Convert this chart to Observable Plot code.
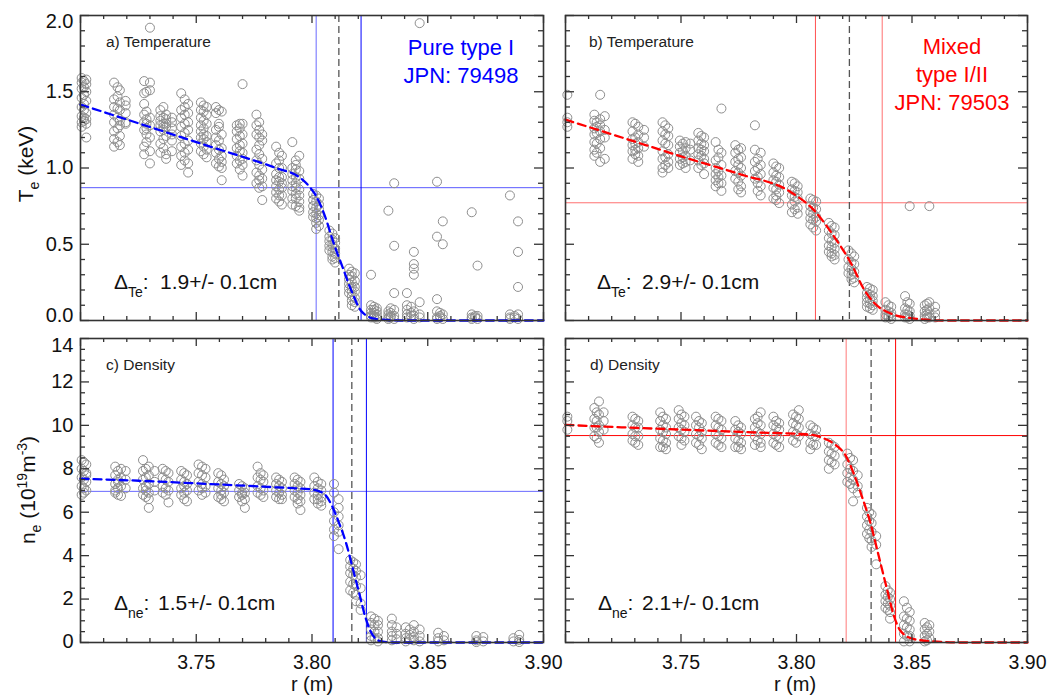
<!DOCTYPE html>
<html><head><meta charset="utf-8">
<script src="https://cdn.jsdelivr.net/npm/d3@7"></script>
<script src="https://cdn.jsdelivr.net/npm/@observablehq/plot@0.6"></script>
<style>
html,body{margin:0;padding:0;background:#fff;}
#fig{position:relative;width:1048px;height:695px;overflow:hidden;}
#fig svg{position:absolute;}
</style></head><body><div id="fig"></div>
<script>
// ---------------- DATA ----------------
const xDomain = [3.70, 3.90];
const xTickLabels = [3.75, 3.80, 3.85, 3.90];
const xMajor = [3.70, 3.75, 3.80, 3.85, 3.90];
const teTicks = [0, 0.5, 1.0, 1.5, 2.0];
const neTicks = [0, 2, 4, 6, 8, 10, 12, 14];

// a) Temperature, pure type I (JPN 79498): [r, [Te values]]
const teA = [
  [3.7005, [1.59,1.56,1.52,1.46,1.40,1.34,1.30,1.27]],
  [3.7015, [1.57,1.53,1.48,1.42,1.38,1.33,1.31]],
  [3.7025, [1.58,1.55,1.50,1.44,1.36,1.32,1.29,1.20]],
  [3.7145, [1.56,1.45,1.40,1.35,1.30,1.24,1.19,1.14]],
  [3.7160, [1.53,1.47,1.39,1.33,1.26,1.17]],
  [3.7170, [1.51,1.43,1.38,1.31,1.28,1.21,1.15]],
  [3.7195, [1.44,1.41,1.36,1.30,1.29]],
  [3.7275, [1.57,1.49,1.42,1.35,1.30,1.25,1.14,1.09]],
  [3.7285, [1.50,1.37,1.32,1.29,1.26,1.22,1.17]],
  [3.7300, [1.92,1.56,1.51,1.33,1.28,1.20,1.11,1.03]],
  [3.7345, [1.38,1.34,1.31,1.28,1.24,1.16,1.10]],
  [3.7358, [1.40,1.33,1.29,1.27,1.25,1.19,1.13]],
  [3.7370, [1.35,1.32,1.29,1.27,1.21,1.09,1.06]],
  [3.7395, [1.33,1.30,1.26,1.22,1.18,1.11]],
  [3.7435, [1.49,1.38,1.33,1.27,1.21,1.14,1.08,1.02]],
  [3.7450, [1.45,1.40,1.35,1.29,1.23,1.16,1.10,1.05]],
  [3.7465, [1.42,1.36,1.30,1.25,1.18,1.12,1.03,0.97]],
  [3.7520, [1.43,1.38,1.33,1.28,1.24,1.20,1.16,1.11]],
  [3.7532, [1.41,1.37,1.31,1.26,1.22,1.19,1.14,1.09]],
  [3.7545, [1.40,1.35,1.29,1.21,1.17,1.12,1.07]],
  [3.7585, [1.40,1.36,1.25,1.20,1.15,1.10,1.03]],
  [3.7598, [1.38,1.29,1.27,1.18,1.12,1.06,1.01]],
  [3.7610, [1.37,1.22,1.13,1.08,1.04,1.00,0.92]],
  [3.7675, [1.28,1.24,1.19,1.13,1.08,1.03]],
  [3.7688, [1.29,1.26,1.21,1.15,1.11,1.05,0.99]],
  [3.7700, [1.55,1.29,1.22,1.16,1.10,1.06,1.02,0.95]],
  [3.7760, [1.35,1.28,1.22,1.12,1.05,0.97,0.90]],
  [3.7772, [1.30,1.25,1.20,1.15,1.09,1.02,0.95,0.92,0.87]],
  [3.7785, [1.22,1.18,1.06,0.99,0.93,0.88,0.79]],
  [3.7845, [1.14,1.03,0.96,0.92,0.88,0.84,0.80]],
  [3.7858, [1.10,1.05,1.00,0.94,0.91,0.86,0.82,0.78]],
  [3.7870, [1.08,1.00,0.94,0.90,0.87,0.82,0.76]],
  [3.7915, [1.17,1.00,0.96,0.92,0.88,0.85,0.80,0.76]],
  [3.7930, [1.05,1.02,0.99,0.94,0.90,0.87,0.83,0.80,0.75]],
  [3.7945, [1.08,0.98,0.93,0.86,0.82,0.78,0.74,0.72]],
  [3.8005, [0.83,0.79,0.75,0.71,0.68]],
  [3.8018, [0.82,0.78,0.74,0.70,0.67,0.64,0.60]],
  [3.8030, [0.80,0.76,0.73,0.69,0.66,0.62]],
  [3.8075, [0.59,0.55,0.52,0.49,0.46]],
  [3.8088, [0.57,0.53,0.50,0.48,0.45,0.42,0.40]],
  [3.8100, [0.54,0.51,0.47,0.44,0.41,0.38]],
  [3.8160, [0.34,0.30,0.27,0.24,0.21,0.18]],
  [3.8172, [0.32,0.29,0.25,0.22,0.19,0.16,0.13,0.10]],
  [3.8185, [0.31,0.26,0.22,0.19,0.15,0.12,0.09]],
  [3.8255, [0.30,0.10,0.07,0.05,0.03,0.02]],
  [3.8268, [0.09,0.07,0.05,0.03,0.02]],
  [3.8280, [0.08,0.06,0.04,0.02,0.01]],
  [3.8330, [0.72,0.06,0.04,0.02,0.01]],
  [3.8340, [0.08,0.05,0.03,0.02]],
  [3.8355, [0.90,0.49,0.18,0.07,0.03,0.01]],
  [3.8410, [0.18,0.10,0.07,0.04,0.02]],
  [3.8428, [0.09,0.05,0.03]],
  [3.8440, [0.45,0.37,0.34,0.30,0.06,0.03,0.01]],
  [3.8465, [1.95,0.12,0.04,0.02]],
  [3.8540, [0.91,0.55,0.14,0.06,0.02,0.01]],
  [3.8553, [0.05,0.03,0.02]],
  [3.8565, [0.65,0.50,0.04,0.01]],
  [3.8690, [0.71,0.04,0.02,0.01]],
  [3.8705, [0.03,0.02]],
  [3.8715, [0.36,0.03,0.01]],
  [3.8855, [0.82,0.04,0.02,0.01]],
  [3.8875, [0.03,0.02]],
  [3.8890, [0.65,0.45,0.22,0.04,0.01]]
];
// b) Temperature, mixed type I/II (JPN 79503)
const teB = [
  [3.7008, [1.48,1.33,1.30,1.27]],
  [3.7125, [1.35,1.31,1.26,1.22,1.17,1.12,1.08]],
  [3.7135, [1.30,1.27,1.23,1.16,1.10]],
  [3.7150, [1.48,1.32,1.28,1.24,1.19,1.13,1.04]],
  [3.7170, [1.34,1.25,1.20,1.06]],
  [3.7290, [1.30,1.24,1.19,1.15,1.11,1.06]],
  [3.7302, [1.29,1.20,1.16,1.12,1.09]],
  [3.7315, [1.27,1.22,1.17,1.13,1.08,1.04]],
  [3.7340, [1.25,1.20,1.14]],
  [3.7420, [1.30,1.24,1.18,1.11,1.06,1.00,0.97]],
  [3.7432, [1.28,1.22,1.16,1.07,1.02]],
  [3.7445, [1.26,1.21,1.15,1.09,1.04,1.00]],
  [3.7495, [1.18,1.14,1.10,1.06,1.02]],
  [3.7508, [1.16,1.11,1.07,1.03]],
  [3.7520, [1.17,1.13,1.08,1.04,1.00]],
  [3.7540, [1.16,1.12,1.05]],
  [3.7575, [1.23,1.18,1.13,1.09,1.05,1.00]],
  [3.7588, [1.21,1.16,1.12,1.08,1.02]],
  [3.7600, [1.20,1.15,1.11,1.06,1.03,0.96]],
  [3.7650, [1.17,1.05,1.00,0.96,0.92,0.88]],
  [3.7662, [1.12,1.07,0.98,0.94,0.90]],
  [3.7675, [1.39,1.10,1.02,0.95,0.90,0.85]],
  [3.7735, [1.15,1.10,1.04,0.98,0.93]],
  [3.7748, [1.12,1.06,1.02,0.97,0.91,0.86]],
  [3.7760, [1.13,1.07,1.00,0.95,0.88,0.84]],
  [3.7820, [1.28,1.12,1.04,0.98,0.93]],
  [3.7832, [1.06,1.00,0.94,0.90,0.85]],
  [3.7845, [1.10,1.02,0.96,0.88,0.82]],
  [3.7900, [1.03,0.97,0.92,0.87,0.80]],
  [3.7912, [1.01,0.95,0.91,0.86,0.82,0.79]],
  [3.7925, [1.00,0.94,0.89,0.84,0.77]],
  [3.7980, [0.91,0.86,0.82,0.76,0.71]],
  [3.7992, [0.90,0.85,0.81,0.78,0.73]],
  [3.8005, [0.88,0.84,0.80,0.74,0.70]],
  [3.8060, [0.80,0.75,0.71,0.67,0.63]],
  [3.8072, [0.79,0.74,0.70,0.66,0.61]],
  [3.8085, [0.78,0.73,0.68,0.65,0.59]],
  [3.8140, [0.64,0.59,0.54,0.49,0.45]],
  [3.8152, [0.62,0.57,0.52,0.48,0.44,0.42]],
  [3.8165, [0.61,0.56,0.51,0.47,0.43,0.40]],
  [3.8225, [0.46,0.40,0.35,0.31]],
  [3.8238, [0.44,0.38,0.34,0.30,0.27]],
  [3.8250, [0.42,0.37,0.32,0.28,0.25]],
  [3.8305, [0.22,0.18,0.15,0.12,0.09]],
  [3.8318, [0.21,0.17,0.14,0.11,0.08]],
  [3.8330, [0.20,0.16,0.13,0.10,0.07]],
  [3.8385, [0.12,0.07,0.04,0.02]],
  [3.8398, [0.10,0.06,0.03,0.02]],
  [3.8410, [0.09,0.05,0.03,0.01]],
  [3.8470, [0.16,0.08,0.04,0.02]],
  [3.8480, [0.12,0.07,0.04,0.02]],
  [3.8490, [0.75,0.11,0.06,0.03,0.01]],
  [3.8555, [0.10,0.06,0.03,0.01]],
  [3.8565, [0.11,0.07,0.04,0.02]],
  [3.8575, [0.75,0.12,0.08,0.04,0.02]],
  [3.8600, [0.09,0.05,0.02]]
];
// c) Density, pure type I
const neA = [
  [3.7005, [8.4,8.0,7.6,7.2,6.8]],
  [3.7015, [8.3,7.9,7.5,7.1,6.9]],
  [3.7025, [8.2,7.8,7.7,7.4,7.0]],
  [3.7150, [8.1,7.7,7.3,7.0,6.9]],
  [3.7162, [7.9,7.5,7.4,7.1,6.8]],
  [3.7175, [8.0,7.6,7.2,6.75]],
  [3.7195, [7.9,7.5,7.1]],
  [3.7270, [8.4,7.9,7.5,7.1,6.8]],
  [3.7282, [8.0,7.6,7.2,7.0,6.7]],
  [3.7295, [8.1,7.7,7.3,6.9,6.6,6.2]],
  [3.7320, [7.9,7.4,7.0]],
  [3.7355, [8.0,7.6,7.2,6.9]],
  [3.7368, [7.9,7.5,7.1,6.8]],
  [3.7380, [7.8,7.4,7.0,6.45]],
  [3.7435, [7.9,7.5,7.1,6.8]],
  [3.7448, [7.8,7.4,7.2,6.9,6.6]],
  [3.7460, [7.7,7.3,7.0,6.5]],
  [3.7510, [8.2,7.8,7.4,7.0]],
  [3.7525, [8.1,7.7,7.3,7.1,6.8]],
  [3.7540, [8.0,7.6,7.2,6.9]],
  [3.7595, [7.8,7.4,7.1,6.7]],
  [3.7608, [7.7,7.3,7.0,6.8,6.6]],
  [3.7620, [7.5,7.2,6.9,6.5]],
  [3.7685, [7.3,7.0,6.7]],
  [3.7698, [7.2,6.9,6.8,6.5]],
  [3.7710, [7.1,6.9,6.6,6.2]],
  [3.7765, [8.1,7.6,7.2,6.9]],
  [3.7778, [7.8,7.5,7.1,6.8]],
  [3.7790, [7.7,7.4,7.0,6.7]],
  [3.7845, [7.6,7.3,7.0,6.7]],
  [3.7858, [7.5,7.2,6.9,6.6]],
  [3.7870, [7.4,7.1,6.8,6.6]],
  [3.7925, [7.6,7.3,7.0,6.7]],
  [3.7938, [7.5,7.2,6.9,6.6,6.4]],
  [3.7950, [7.4,7.1,6.8,6.5,6.1]],
  [3.8010, [7.6,7.2,6.9,6.6]],
  [3.8025, [7.4,7.1,6.8,6.6,6.4]],
  [3.8040, [7.3,7.0,6.7,6.5,6.3]],
  [3.8095, [7.3,6.9,6.0,5.6,5.2,4.9]],
  [3.8115, [6.6,6.2,5.8,5.4,5.1,4.3]],
  [3.8165, [3.8,3.5,3.2,2.8,2.4]],
  [3.8178, [3.7,3.4,3.1,2.7,2.3]],
  [3.8190, [3.6,3.3,3.0,2.6,2.2,1.9]],
  [3.8210, [3.1,2.5,1.8,1.5]],
  [3.8255, [1.2,0.9,0.6,0.3,0.1]],
  [3.8270, [1.1,0.8,0.5,0.2]],
  [3.8285, [1.0,0.8,0.5,0.2,0.05]],
  [3.8345, [1.1,0.8,0.5,0.3,0.1]],
  [3.8365, [0.7,0.4,0.15]],
  [3.8405, [0.7,0.4,0.2,0.05]],
  [3.8422, [0.6,0.35,0.15]],
  [3.8440, [0.8,0.5,0.25,0.1]],
  [3.8465, [0.6,0.3,0.05]],
  [3.8545, [0.45,0.2,0.05]],
  [3.8570, [0.3,0.1]],
  [3.8710, [0.3,0.1,0.02]],
  [3.8740, [0.25,0.05]],
  [3.8870, [0.2,0.05]],
  [3.8895, [0.35,0.12,0.02]]
];
// d) Density, mixed type I/II
const neB = [
  [3.7008, [10.4,10.2,9.8]],
  [3.7125, [10.8,10.3,9.9,9.5]],
  [3.7135, [10.6,10.2,9.9,9.4]],
  [3.7145, [11.1,10.5,10.0,9.7,9.2]],
  [3.7165, [10.6,10.2,9.8]],
  [3.7290, [10.4,10.0,9.6,9.3]],
  [3.7302, [10.3,9.9,9.5,9.2]],
  [3.7315, [10.2,9.9,9.5,9.1]],
  [3.7410, [10.6,10.2,9.8,9.4,9.0]],
  [3.7422, [10.4,10.0,9.7,9.3,9.0]],
  [3.7435, [10.3,9.9,9.6,9.2,8.9]],
  [3.7490, [10.7,10.3,9.9,9.5]],
  [3.7502, [10.5,10.1,9.8,9.4,9.1]],
  [3.7515, [10.4,10.0,9.7,9.3]],
  [3.7565, [10.4,10.0,9.6,9.2]],
  [3.7578, [10.2,9.9,9.5,9.1]],
  [3.7590, [10.1,9.7,9.4,8.9]],
  [3.7650, [10.4,10.0,9.6,9.2]],
  [3.7662, [10.3,9.9,9.5,9.1]],
  [3.7675, [10.2,9.8,9.4,9.0]],
  [3.7735, [10.2,9.8,9.4,9.0]],
  [3.7748, [10.0,9.7,9.3,9.0]],
  [3.7760, [9.9,9.6,9.2,8.9]],
  [3.7820, [10.3,9.9,9.5,9.1]],
  [3.7832, [10.4,10.1,9.7,9.3]],
  [3.7845, [10.6,10.0,9.6,9.2,9.0]],
  [3.7900, [10.4,10.0,9.6,9.2]],
  [3.7912, [10.2,9.9,9.5,9.1]],
  [3.7925, [10.1,9.8,9.4,9.0]],
  [3.7985, [10.5,10.1,9.7,9.3]],
  [3.7998, [10.4,10.0,9.6,9.2]],
  [3.8010, [10.7,10.3,9.9,9.5]],
  [3.8060, [10.0,9.6,9.2,8.9]],
  [3.8072, [9.9,9.5,9.1]],
  [3.8085, [9.8,9.5,9.1]],
  [3.8140, [9.2,8.8,8.4,8.0]],
  [3.8152, [9.1,8.7,8.3]],
  [3.8165, [9.0,8.6,8.2]],
  [3.8220, [8.7,8.2,7.8,7.4]],
  [3.8232, [8.5,8.0,7.6,7.3]],
  [3.8245, [8.4,7.9,7.5,7.1,6.5]],
  [3.8265, [7.7,7.2,6.9]],
  [3.8305, [6.2,5.8,5.4,5.0]],
  [3.8315, [6.0,5.6,5.2,4.8]],
  [3.8325, [5.9,5.5,5.1,4.7,4.4]],
  [3.8345, [4.9,4.5,3.6]],
  [3.8385, [2.6,2.2,1.9,1.6]],
  [3.8395, [2.4,2.1,1.8,1.5]],
  [3.8405, [2.3,2.0,1.7,1.4,1.1]],
  [3.8465, [1.9,1.2,0.8,0.4,0.05]],
  [3.8478, [1.6,1.1,0.7,0.3]],
  [3.8490, [1.4,1.0,0.6,0.3,0.05]],
  [3.8555, [0.9,0.6,0.3,0.05]],
  [3.8565, [0.7,0.4,0.1]],
  [3.8575, [0.8,0.5,0.2]]
];

// fitted profiles (dashed curves): [r, value]
const fitA = [[3.700,1.416],[3.7253,1.292],[3.7553,1.144],[3.7854,0.995],[3.794,0.945],[3.799,0.875],[3.802,0.81],[3.8057,0.68],[3.8094,0.505],[3.8132,0.35],[3.8169,0.20],[3.8214,0.06],[3.8275,0.01],[3.838,0],[3.90,0]];
const fitB = [[3.700,1.317],[3.7244,1.200],[3.7535,1.060],[3.7754,0.960],[3.7973,0.844],[3.8075,0.724],[3.8163,0.55],[3.8236,0.375],[3.8294,0.20],[3.8338,0.113],[3.8411,0.044],[3.8498,0.015],[3.863,0],[3.90,0]];
const fitC = [[3.700,7.54],[3.7253,7.45],[3.7553,7.30],[3.7854,7.14],[3.8004,7.04],[3.8057,6.80],[3.8087,6.27],[3.8117,5.50],[3.8147,4.59],[3.8177,3.37],[3.8207,2.14],[3.8229,1.22],[3.8252,0.54],[3.829,0.08],[3.835,0],[3.90,0]];
const fitD = [[3.700,10.02],[3.7243,9.91],[3.7534,9.79],[3.7825,9.67],[3.8043,9.59],[3.8116,9.41],[3.8174,9.06],[3.8211,8.64],[3.8247,7.80],[3.8283,6.73],[3.832,5.51],[3.8356,3.98],[3.8392,2.45],[3.8422,1.22],[3.845,0.54],[3.8509,0.15],[3.8625,0.03],[3.87,0],[3.90,0]];

// reference lines
const vertA = [3.8018, 3.8212], dashA = [3.8116], horizA = [0.871];
const vertB = [3.8082, 3.8371], dashB = [3.8229], horizB = [0.772];
const vertC = [3.8091, 3.8235], dashC = [3.8172], horizC = [6.96];
const vertD = [3.8215, 3.8429], dashD = [3.8323], horizD = [9.53];

const widthA = "1.9+/- 0.1cm", widthB = "2.9+/- 0.1cm", widthC = "1.5+/- 0.1cm", widthD = "2.1+/- 0.1cm";

// ---------------- DRAWING ----------------
const FONT = "'Liberation Sans', Arial, Helvetica, sans-serif";
const BLUE = "#0000ff", RED = "#ff0000";
const fig = document.getElementById("fig");
const flat = cl => cl.flatMap(([r, vs]) => vs.map(v => ({r, v})));
const xMinor = d3.range(3.70, 3.9001, 0.01).filter(v => Math.abs(v*20 - Math.round(v*20)) > 1e-6);

function panel(o) {
  const H = o.height - o.mt - o.mb, W = o.width - o.ml - o.mr;
  const yMinor = d3.range(o.ydom[0], o.ydom[1] + 1e-9, o.minorStep).filter(v => !o.yMajor.some(m => Math.abs(m - v) < 1e-6));
  const tk = {stroke: "#333", strokeWidth: 1.3};
  const marks = [
    Plot.ruleY(o.horiz, {y: d => d, stroke: o.hColor, strokeWidth: 1}),
    ...o.vert.map((v, i) => Plot.ruleX([v], {x: d => d, stroke: o.vColors[i], strokeWidth: 1})),
    Plot.ruleX(o.dash, {x: d => d, stroke: "#555", strokeWidth: 1.3, strokeDasharray: "7,4"}),
    Plot.dot(flat(o.pts), {x: "r", y: "v", r: 4.5, stroke: "#8e8e8e", strokeWidth: 1, fill: "none"}),
    Plot.line(o.fit, {x: d => d[0], y: d => d[1], stroke: o.fitColor, strokeWidth: 2.3, strokeDasharray: "8,5", curve: "monotone-x"}),
    Plot.tickX(xMinor, {x: d => d, insetTop: H - 4, ...tk}),
    Plot.tickX(xMinor, {x: d => d, insetBottom: H - 4, ...tk}),
    Plot.tickX(xMajor, {x: d => d, insetTop: H - 8, ...tk}),
    Plot.tickX(xMajor, {x: d => d, insetBottom: H - 8, ...tk}),
    Plot.tickY(yMinor, {y: d => d, insetRight: W - 5, ...tk}),
    Plot.tickY(yMinor, {y: d => d, insetLeft: W - 5, ...tk}),
    Plot.tickY(o.yMajor, {y: d => d, insetRight: W - 9, ...tk}),
    Plot.tickY(o.yMajor, {y: d => d, insetLeft: W - 9, ...tk}),
    Plot.frame({stroke: "#333", strokeWidth: 1.6})
  ];
  if (o.showY) {
    const n = o.yMajor.length;
    const lab = {text: o.yfmt, frameAnchor: "left", textAnchor: "end", dx: -7, fontSize: 20, fill: "#111"};
    marks.push(Plot.text(o.yMajor.slice(1, n - 1), {y: d => d, ...lab}));
    marks.push(Plot.text(o.yMajor.slice(0, 1), {y: d => d, ...lab, dy: o.bottomShift}));
    marks.push(Plot.text(o.yMajor.slice(n - 1), {y: d => d, ...lab, dy: o.topShift}));
  }
  if (o.showX) marks.push(Plot.text(xTickLabels, {x: d => d, text: d3.format(".2f"), frameAnchor: "bottom", lineAnchor: "top", dy: 13, fontSize: 19.5, fill: "#111"}));
  const svg = Plot.plot({
    width: o.width, height: o.height,
    marginLeft: o.ml, marginRight: o.mr, marginTop: o.mt, marginBottom: o.mb,
    x: {domain: xDomain, axis: null},
    y: {domain: o.ydom, axis: null},
    style: {fontFamily: FONT, background: "transparent", overflow: "visible", maxWidth: "none"},
    marks
  });
  svg.style.left = o.left + "px";
  svg.style.top = o.top + "px";
  fig.append(svg);
  return svg;
}

function txt(svg, x, y, parts, {size = 20, color = "#111", anchor = "start", rotate = false} = {}) {
  const t = d3.select(svg).append("text")
    .attr("fill", color).attr("font-size", size).attr("text-anchor", anchor).attr("font-family", FONT);
  if (rotate) t.attr("transform", `translate(${x},${y}) rotate(-90)`);
  else t.attr("x", x).attr("y", y);
  for (const p of parts) {
    const s = t.append("tspan").text(p.t);
    if (p.size) s.attr("font-size", p.size);
    if (p.dy) s.attr("dy", p.dy);
    if (p.x != null) s.attr("x", p.x);
  }
}

const fmt1 = d3.format(".1f"), fmt0 = d3.format("d");

// a)
const sA = panel({left: 0, top: 0, width: 553, height: 329, ml: 80, mr: 10, mt: 15, mb: 9,
  ydom: [0, 2], yMajor: teTicks, minorStep: 0.1, showY: true, showX: false, yfmt: fmt1, bottomShift: -5, topShift: 6,
  pts: teA, fit: fitA, fitColor: BLUE, vert: vertA, vColors: ["#6a6aff", BLUE], dash: dashA, horiz: horizA, hColor: "#5a5aff"});
// b)
const sB = panel({left: 553, top: 0, width: 495, height: 329, ml: 12, mr: 21, mt: 15, mb: 9,
  ydom: [0, 2], yMajor: teTicks, minorStep: 0.1, showY: false, showX: false, yfmt: fmt1,
  pts: teB, fit: fitB, fitColor: RED, vert: vertB, vColors: ["#ff5050", "#ff7070"], dash: dashB, horiz: horizB, hColor: "#ff7070"});
// c)
const sC = panel({left: 0, top: 329, width: 553, height: 366, ml: 80, mr: 10, mt: 9, mb: 53,
  ydom: [0, 14], yMajor: neTicks, minorStep: 0.5, showY: true, showX: true, yfmt: fmt0, bottomShift: -1, topShift: 7,
  pts: neA, fit: fitC, fitColor: BLUE, vert: vertC, vColors: [BLUE, BLUE], dash: dashC, horiz: horizC, hColor: "#6a6aff"});
// d)
const sD = panel({left: 553, top: 329, width: 495, height: 366, ml: 12, mr: 21, mt: 9, mb: 53,
  ydom: [0, 14], yMajor: neTicks, minorStep: 0.5, showY: false, showX: true, yfmt: fmt0,
  pts: neB, fit: fitD, fitColor: RED, vert: vertD, vColors: ["#ff7a7a", RED], dash: dashD, horiz: horizD, hColor: RED});

// panel labels
txt(sA, 106, 47, [{t: "a) Temperature"}], {size: 15.5, color: "#222"});
txt(sB, 36, 47, [{t: "b) Temperature"}], {size: 15.5, color: "#222"});
txt(sC, 106, 41, [{t: "c) Density"}], {size: 15.5, color: "#222"});
txt(sD, 37, 41, [{t: "d) Density"}], {size: 15.5, color: "#222"});

// discharge labels
txt(sA, 461, 55, [{t: "Pure type I"}], {size: 22, color: BLUE, anchor: "middle"});
txt(sA, 461, 83, [{t: "JPN: 79498"}], {size: 22, color: BLUE, anchor: "middle"});
txt(sB, 399, 54, [{t: "Mixed"}], {size: 22, color: RED, anchor: "middle"});
txt(sB, 399, 82, [{t: "type I/II"}], {size: 22, color: RED, anchor: "middle"});
txt(sB, 399, 110, [{t: "JPN: 79503"}], {size: 22, color: RED, anchor: "middle"});

// pedestal widths
function delta(svg, x, y, sub, val, xv) {
  txt(svg, x, y, [{t: "\u0394"}, {t: sub, size: 14, dy: 8}, {t: ":", dy: -8}, {t: val, x: xv}], {size: 21, color: "#111"});
}
delta(sA, 114, 289, "Te", widthA, 160);
delta(sB, 44, 289, "Te", widthB, 89);
delta(sC, 114, 281, "ne", widthC, 158);
delta(sD, 45, 281, "ne", widthD, 89);

// axis titles
txt(sA, 33, 164, [{t: "T"}, {t: "e", size: 14, dy: 6}, {t: " (keV)", dy: -6}], {size: 21, color: "#111", anchor: "middle", rotate: true});
txt(sC, 35, 161, [{t: "n"}, {t: "e", size: 14, dy: 6}, {t: " (10", dy: -6}, {t: "19", size: 14, dy: -8}, {t: "m", dy: 8}, {t: "-3", size: 14, dy: -8}, {t: ")", dy: 8}], {size: 21, color: "#111", anchor: "middle", rotate: true});
txt(sC, 312, 362, [{t: "r (m)"}], {size: 20, color: "#111", anchor: "middle"});
txt(sD, 242, 362, [{t: "r (m)"}], {size: 20, color: "#111", anchor: "middle"});
</script></body></html>
